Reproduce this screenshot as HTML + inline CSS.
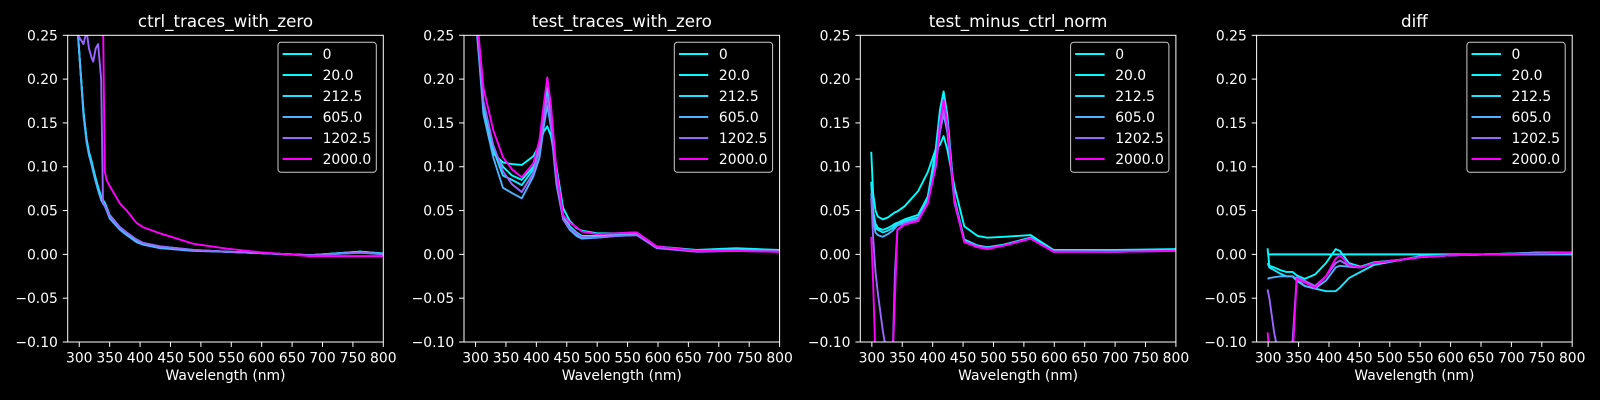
<!DOCTYPE html>
<html><head><meta charset="utf-8"><style>
html,body{margin:0;padding:0;background:#000;width:1600px;height:400px;overflow:hidden;position:relative;}
svg{display:block;position:absolute;left:0;top:0;font-family:"DejaVu Sans","Liberation Sans",sans-serif;}
</style></head><body>
<svg id="fig" width="1600" height="400" viewBox="0 0 1600 400" overflow="hidden">
<rect width="1600" height="400" fill="#000"/>
</svg>
<script>
// ---- data ----
const seriesLabels = ["0","20.0","212.5","605.0","1202.5","2000.0"];
const seriesColors = ["#00ffff","#03fcff","#1be4ff","#4db2ff","#9966ff","#ff00ff"];
const panelTitles = ["ctrl_traces_with_zero","test_traces_with_zero","test_minus_ctrl_norm","diff"];
const xTicks = [300,350,400,450,500,550,600,650,700,750,800];
const yTicks = [-0.10,-0.05,0.00,0.05,0.10,0.15,0.20,0.25];

const wl1 = [298,307,312,316,320,323,327,331,336,339,342,345,350,367,378,394,405,433,488,543,597,680,762,800];
const ctrlValues = [
 [0.25,0.163,0.132,0.117,0.107,0.098,0.087,0.077,0.066,0.062,0.059,0.054,0.045,0.031,0.025,0.017,0.013,0.009,0.005,0.003,0.0015,-0.001,0.003,0.001],
 [0.25,0.162,0.131,0.116,0.106,0.097,0.086,0.076,0.065,0.061,0.058,0.053,0.044,0.030,0.024,0.016,0.012,0.008,0.0046,0.003,0.0015,-0.001,0.003,0.001],
 [0.25,0.161,0.130,0.115,0.105,0.096,0.085,0.075,0.064,0.060,0.057,0.052,0.043,0.030,0.024,0.016,0.012,0.008,0.0046,0.003,0.0015,-0.001,0.003,0.001],
 [0.25,0.158,0.128,0.113,0.103,0.094,0.083,0.073,0.062,0.058,0.055,0.050,0.041,0.028,0.022,0.014,0.011,0.007,0.004,0.003,0.0015,-0.001,0.002,0.001],
 [0.25,0.24,0.255,0.235,0.225,0.22,0.235,0.24,0.20,0.06,0.056,0.052,0.044,0.031,0.025,0.017,0.013,0.009,0.005,0.003,0.0015,-0.001,0.002,0.0],
 [0.5,0.5,0.5,0.5,0.5,0.5,0.5,0.5,0.5,0.5,0.095,0.085,0.078,0.058,0.05,0.036,0.031,0.024,0.012,0.0065,0.0025,-0.002,-0.002,-0.002]
];

const wl2 = [300,305,313,329,345,360,376,395,405,412,418,424,433,444,455,466,475,500,532,565,598,663,729,800];
const testValues = [
 [0.28,0.24,0.165,0.115,0.105,0.103,0.102,0.112,0.125,0.14,0.146,0.135,0.10,0.053,0.038,0.030,0.027,0.024,0.024,0.025,0.009,0.005,0.007,0.005],
 [0.28,0.24,0.17,0.12,0.10,0.09,0.085,0.10,0.128,0.165,0.185,0.16,0.092,0.045,0.032,0.025,0.021,0.021,0.022,0.023,0.008,0.004,0.006,0.004],
 [0.28,0.24,0.17,0.12,0.09,0.085,0.079,0.097,0.125,0.165,0.19,0.16,0.09,0.042,0.030,0.023,0.019,0.020,0.022,0.023,0.008,0.004,0.006,0.004],
 [0.27,0.23,0.16,0.111,0.076,0.070,0.064,0.089,0.11,0.145,0.17,0.145,0.08,0.040,0.028,0.021,0.018,0.019,0.021,0.022,0.008,0.004,0.005,0.004],
 [0.28,0.24,0.175,0.125,0.095,0.080,0.071,0.093,0.12,0.155,0.18,0.15,0.085,0.040,0.030,0.024,0.020,0.019,0.021,0.022,0.007,0.003,0.004,0.003],
 [0.29,0.25,0.19,0.142,0.111,0.097,0.088,0.104,0.130,0.17,0.202,0.17,0.096,0.045,0.036,0.031,0.026,0.023,0.024,0.025,0.009,0.004,0.004,0.003]
];

const wl3 = [299,302,306,310,318,326,334,338,342,354,376,392,405,412,418,424,436,452,474,490,517,561,599,700,800];
const normValues = [
 [0.117,0.07,0.05,0.043,0.040,0.042,0.046,0.048,0.049,0.055,0.072,0.094,0.12,0.125,0.135,0.12,0.077,0.032,0.021,0.019,0.02,0.022,0.005,0.005,0.006],
 [0.083,0.05,0.035,0.03,0.028,0.03,0.033,0.035,0.036,0.04,0.045,0.066,0.12,0.165,0.186,0.16,0.063,0.017,0.010,0.008,0.011,0.019,0.004,0.004,0.005],
 [0.08,0.05,0.03,0.028,0.025,0.027,0.03,0.033,0.035,0.038,0.042,0.063,0.11,0.155,0.18,0.155,0.06,0.016,0.010,0.008,0.011,0.019,0.004,0.004,0.005],
 [0.07,0.04,0.025,0.022,0.02,0.023,0.027,0.03,0.033,0.036,0.04,0.06,0.1,0.14,0.16,0.14,0.058,0.015,0.009,0.007,0.010,0.018,0.004,0.003,0.004],
 [0.065,0.02,-0.02,-0.045,-0.087,-0.12,-0.12,-0.02,0.028,0.035,0.04,0.06,0.1,0.14,0.165,0.145,0.06,0.015,0.009,0.007,0.010,0.018,0.003,0.003,0.004],
 [0.02,-0.03,-0.12,-0.2,-0.2,-0.2,-0.2,-0.05,0.028,0.034,0.038,0.058,0.1,0.15,0.176,0.15,0.06,0.014,0.008,0.006,0.010,0.018,0.003,0.003,0.004]
];

const wl4 = [299,302,310,320,330,340,347,360,377,395,411,418,433,452,474,520,551,600,661,743,800];
const diffValues = [
 [0,0,0,0,0,0,0,0,0,0,0,0,0,0,0,0,0,0,0,0,0],
 [0.007,-0.013,-0.015,-0.018,-0.02,-0.02,-0.024,-0.028,-0.023,-0.01,0.006,0.004,-0.01,-0.014,-0.009,-0.006,-0.002,-0.001,0,0.002,0.002],
 [-0.01,-0.015,-0.018,-0.022,-0.025,-0.025,-0.03,-0.036,-0.039,-0.042,-0.042,-0.038,-0.027,-0.02,-0.012,-0.006,-0.003,-0.001,0,0.002,0.002],
 [-0.028,-0.027,-0.026,-0.025,-0.025,-0.025,-0.028,-0.036,-0.039,-0.03,-0.015,-0.013,-0.014,-0.015,-0.01,-0.006,-0.003,-0.001,0,0.001,0.001],
 [-0.04,-0.05,-0.09,-0.13,-0.15,-0.1,-0.026,-0.03,-0.036,-0.025,-0.01,-0.007,-0.013,-0.015,-0.01,-0.006,-0.003,-0.001,0,0.001,0.001],
 [-0.089,-0.11,-0.15,-0.15,-0.15,-0.12,-0.028,-0.032,-0.038,-0.025,-0.005,-0.001,-0.012,-0.015,-0.01,-0.006,-0.003,-0.001,0,0.001,0.002]
];

const panelWavelengths = [wl1, wl2, wl3, wl4];
const panelValues = [ctrlValues, testValues, normValues, diffValues];

// ---- layout ----
const NS = "http://www.w3.org/2000/svg";
const svg = document.getElementById("fig");
const axLeft0 = 67.7, axStep = 396.3, axW = 315.6, axTop = 35.3, axBot = 342;
const xMin = 281, xMax = 800, yMin = -0.1, yMax = 0.25;

function mk(tag, attrs, parent){
  const e = document.createElementNS(NS, tag);
  for (const k in attrs) e.setAttribute(k, attrs[k]);
  (parent || svg).appendChild(e);
  return e;
}

panelTitles.forEach((title, p) => {
  const L = axLeft0 + p*axStep, R = L + axW;
  const xs = v => L + (v - xMin)/(xMax - xMin)*axW;
  const ys = v => axBot - (v - yMin)/(yMax - yMin)*(axBot - axTop);
  const ysc = v => Math.max(axTop - 20, Math.min(axBot + 20, ys(v)));
  const g = mk("g", {});
  
  

  const clipId = "clip" + p;
  const cp = mk("clipPath", {id: clipId}, g);
  mk("rect", {x: L, y: axTop, width: axW, height: axBot - axTop}, cp);

  const lg = mk("g", {"clip-path": "url(#" + clipId + ")"}, g);
  const W = panelWavelengths[p];
  panelValues[p].forEach((vals, s) => {
    const d = vals.map((v, i) => (i ? "L" : "M") + xs(W[i]).toFixed(2) + "," + ysc(v).toFixed(2)).join(" ");
    const path = mk("path", {d: d, fill: "none", stroke: seriesColors[s], "stroke-width": 1.9, "stroke-linejoin": "round"}, lg);
    
    
  });

  const sp = mk("rect", {x: L, y: axTop, width: axW, height: axBot - axTop, fill: "none", stroke: "#fff", "stroke-width": 1}, g);
  
  

  xTicks.forEach(t => {
    const x = xs(t);
    mk("line", {x1: x, x2: x, y1: axBot, y2: axBot + 4.9, stroke: "#fff", "stroke-width": 1}, g);
    const tx = mk("text", {x: x, y: 362.7, fill: "#fff", "font-size": 13.9, "text-anchor": "middle"}, g);
    tx.textContent = t;
    
    
  });
  yTicks.forEach(t => {
    const y = ys(t);
    mk("line", {x1: L - 4.9, x2: L, y1: y, y2: y, stroke: "#fff", "stroke-width": 1}, g);
    const ty = mk("text", {x: L - 9.8, y: y + 5, fill: "#fff", "font-size": 13.9, "text-anchor": "end"}, g);
    ty.textContent = (t < 0 ? "\u2212" : "") + Math.abs(t).toFixed(2);
    
    
  });
  const xl = mk("text", {x: L + axW/2, y: 380, fill: "#fff", "font-size": 13.9, "text-anchor": "middle"}, g);
  xl.textContent = "Wavelength (nm)";
  
  
  const tt = mk("text", {x: L + axW/2, y: 27, fill: "#fff", "font-size": 16.7, "text-anchor": "middle"}, g);
  tt.textContent = title;
  
  

  const lgx = R - 7 - 98.3, lgy = 42.3;
  const leg = mk("g", {}, g);
  
  
  mk("rect", {x: lgx, y: lgy, width: 98.3, height: 130, rx: 3, fill: "#000", "fill-opacity": 0.8, stroke: "#cccccc", "stroke-width": 1}, leg);
  seriesLabels.forEach((lab, s) => {
    const yy = 54 + s*21;
    const ent = mk("g", {}, leg);
    
    
    mk("line", {x1: lgx + 4.6, x2: lgx + 34, y1: yy, y2: yy, stroke: seriesColors[s], "stroke-width": 1.9}, ent);
    const te = mk("text", {x: lgx + 44.6, y: yy + 5, fill: "#fff", "font-size": 13.9}, ent);
    te.textContent = lab;
  });
});
</script>
</body></html>
